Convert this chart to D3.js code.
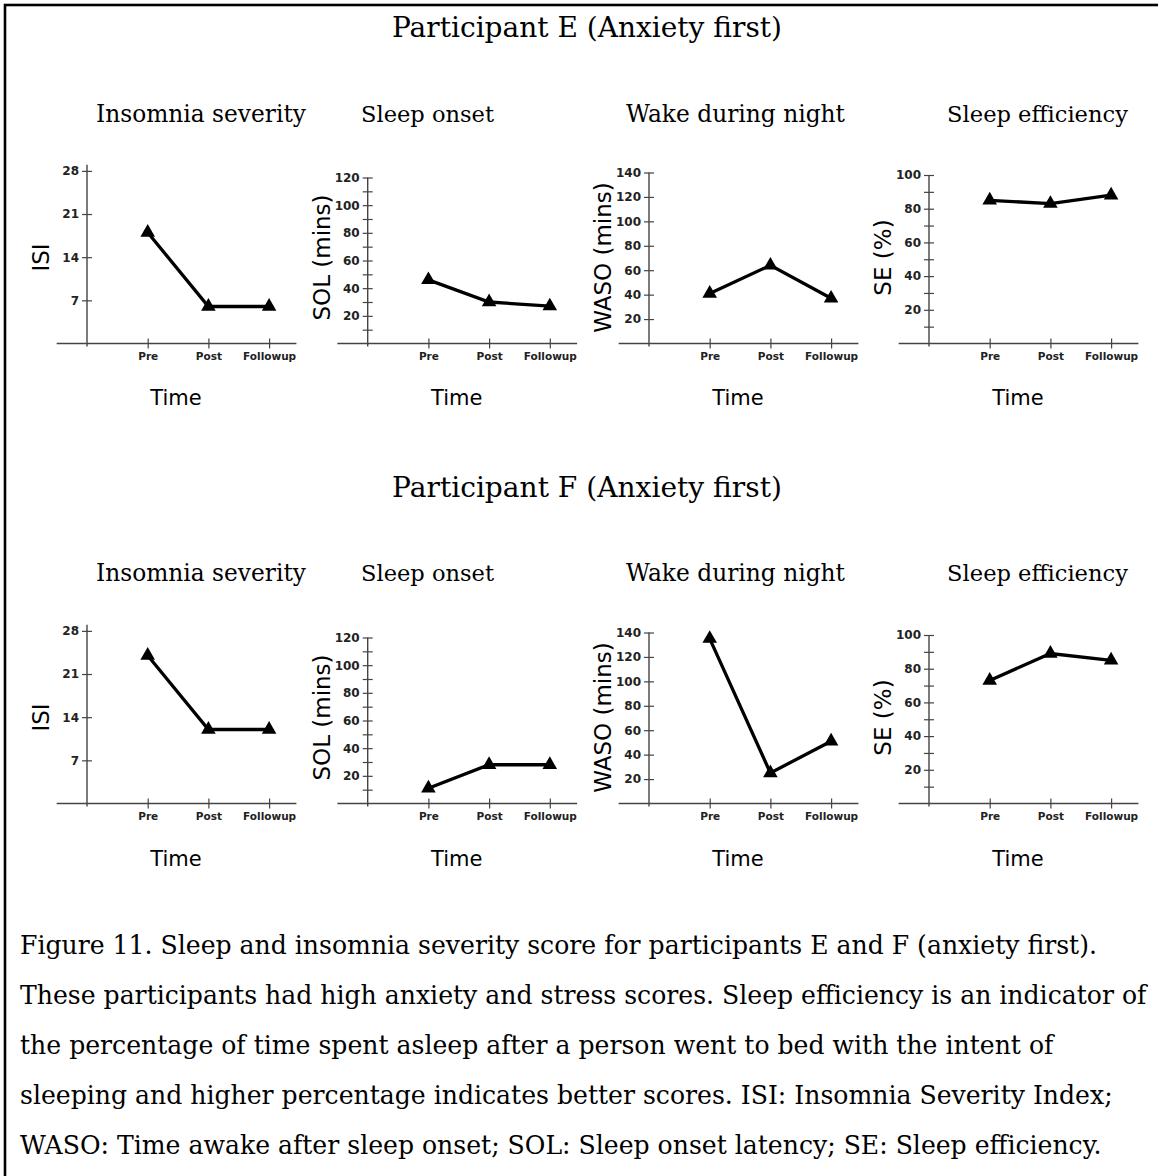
<!DOCTYPE html>
<html>
<head>
<meta charset="utf-8">
<script src="https://cdn.jsdelivr.net/npm/d3@7"></script>
<style>
  html, body { margin: 0; padding: 0; background: #fff; }
  svg { display: block; }
</style>
</head>
<body>
<svg id="chart" width="1158" height="1176"></svg>
<script>
// ---------------- DATA ----------------
const categories = ["Pre", "Post", "Followup"];
const participants = ["Participant E (Anxiety first)", "Participant F (Anxiety first)"];
const panelTitles = ["Insomnia severity", "Sleep onset", "Wake during night", "Sleep efficiency"];
const yLabels = ["ISI", "SOL (mins)", "WASO (mins)", "SE (%)"];
const xLabel = "Time";

const isiE = [18, 6, 6];
const solE = [46, 30, 27];
const wasoE = [41, 64, 37];
const seE = [85, 83, 88];

const isiF = [24, 12, 12];
const solF = [11, 28, 28];
const wasoF = [135, 25, 51];
const seF = [73, 89, 85];

const isiTicks = [7, 14, 21, 28];
const solTicks = [20, 40, 60, 80, 100, 120];
const solMinor = [10, 30, 50, 70, 90, 110];
const wasoTicks = [20, 40, 60, 80, 100, 120, 140];
const seTicks = [20, 40, 60, 80, 100];
const seMinor = [10, 30, 50, 70, 90];

const isiMax = 29, solMax = 120, wasoMax = 140, seMax = 100;

const captionLines = [
  "Figure 11. Sleep and insomnia severity score for participants E and F (anxiety first).",
  "These participants had high anxiety and stress scores. Sleep efficiency is an indicator of",
  "the percentage of time spent asleep after a person went to bed with the intent of",
  "sleeping and higher percentage indicates better scores. ISI: Insomnia Severity Index;",
  "WASO: Time awake after sleep onset; SOL: Sleep onset latency; SE: Sleep efficiency."
];

const rowsData = [[isiE, solE, wasoE, seE], [isiF, solF, wasoF, seF]];
const tickSets = [isiTicks, solTicks, wasoTicks, seTicks];
const minorSets = [[], solMinor, [], seMinor];
const maxes = [isiMax, solMax, wasoMax, seMax];

// ---------------- LAYOUT ----------------
const axisXs = [87, 367.7, 649, 929];
const titleXs = [201, 427.5, 735.5, 1037.5];
const pxPerMax = [178.8, 166, 171, 168.5]; // pixel height of domain max
const rowBase = [343.5, 803.5];
const rowTitleY = [37, 497];
const rowSubY = [122, 581];
const rowTimeY = [405, 866];
const step = 60.7;

const serif = "'DejaVu Serif', 'Liberation Serif', serif";
const sans = "'DejaVu Sans', Verdana, sans-serif";

const svg = d3.select("#chart");

svg.append("rect").attr("x", 5).attr("y", 5).attr("width", 1170).attr("height", 1190)
  .attr("fill", "none").attr("stroke", "#000").attr("stroke-width", 2.6);

function fitText(sel, target) {
  const w = sel.node().getComputedTextLength();
  const fs = parseFloat(sel.attr("font-size"));
  return fs * target / w;
}

// Titles
const titleTargets = [390, 390];
participants.forEach((t, r) => {
  const el = svg.append("text").attr("x", 587).attr("y", rowTitleY[r])
    .attr("text-anchor", "middle").attr("font-family", serif).attr("font-size", 28)
    .attr("fill", "#000").text(t);
  el.attr("font-size", fitText(el, titleTargets[r]));
});

const subWidths = [210, 133, 219, 181];

rowsData.forEach((rowVals, r) => {
  const y0 = rowBase[r];
  rowVals.forEach((vals, c) => {
    const ax = axisXs[c];
    const sub = svg.append("text").attr("x", titleXs[c]).attr("y", rowSubY[r])
      .attr("text-anchor", "middle").attr("font-family", serif).attr("font-size", 24)
      .attr("fill", "#000").text(panelTitles[c]);
    sub.attr("font-size", fitText(sub, subWidths[c]));

    const g = svg.append("g");
    const y = d3.scaleLinear().domain([0, maxes[c]]).range([y0, y0 - pxPerMax[c]]);
    const x = d3.scaleLinear().domain([0, 3]).range([ax, ax + 3 * step]);

    // axis lines
    g.append("line").attr("x1", ax).attr("x2", ax).attr("y1", y0 + 3).attr("y2", y(maxes[c]))
      .attr("stroke", "#444").attr("stroke-width", 1.4);
    g.append("line").attr("x1", x(-0.5)).attr("x2", x(3.45)).attr("y1", y0).attr("y2", y0)
      .attr("stroke", "#444").attr("stroke-width", 1.4);

    // y axis major
    const ya = g.append("g").attr("transform", `translate(${ax},0)`)
      .call(d3.axisLeft(y).tickValues(tickSets[c]).tickSize(5).tickPadding(3).tickFormat(d3.format("d")));
    ya.select(".domain").remove();
    ya.selectAll(".tick line").attr("x1", 5).attr("stroke", "#444").attr("stroke-width", 1.2);
    ya.selectAll(".tick text").attr("font-family", sans).attr("font-weight", "bold")
      .attr("font-size", 12).attr("fill", "#222");
    // y minor
    if (minorSets[c].length) {
      const ym = g.append("g").attr("transform", `translate(${ax},0)`)
        .call(d3.axisLeft(y).tickValues(minorSets[c]).tickSize(5).tickFormat(""));
      ym.select(".domain").remove();
      ym.selectAll(".tick line").attr("x1", 5).attr("stroke", "#444").attr("stroke-width", 1.2);
    }

    // x axis
    const xa = g.append("g").attr("transform", `translate(0,${y0})`)
      .call(d3.axisBottom(x).tickValues([1, 2, 3]).tickSize(5).tickPadding(4)
        .tickFormat(i => categories[i - 1]));
    xa.select(".domain").remove();
    xa.selectAll(".tick line").attr("y1", -5).attr("stroke", "#444").attr("stroke-width", 1.2);
    xa.selectAll(".tick text").attr("font-family", sans).attr("font-weight", "bold")
      .attr("font-size", 10.5).attr("fill", "#222");

    // labels
    g.append("text").attr("x", ax + 89).attr("y", rowTimeY[r]).attr("text-anchor", "middle")
      .attr("font-family", sans).attr("font-size", 21).attr("fill", "#000").text(xLabel);
    const cy = y0 - 86;
    g.append("text").attr("transform", `translate(${ax - 46},${cy}) rotate(-90)`)
      .attr("text-anchor", "middle").attr("dy", "0.36em")
      .attr("font-family", sans).attr("font-size", 23).attr("fill", "#000").text(yLabels[c]);

    // line & markers
    const line = d3.line().x((d, i) => x(i + 1)).y(d => y(d));
    g.append("path").datum(vals).attr("d", line).attr("fill", "none")
      .attr("stroke", "#000").attr("stroke-width", 3.3);
    g.selectAll(".mk").data(vals).join("path")
      .attr("transform", (d, i) => `translate(${x(i + 1)},${y(d)})`)
      .attr("d", d3.symbol(d3.symbolTriangle, 92)).attr("fill", "#000");
  });
});

// Caption
const capBase = 954;
const capEls = captionLines.map((t, i) =>
  svg.append("text").attr("x", 20).attr("y", capBase + i * 50)
    .attr("font-family", serif).attr("font-size", 22).attr("fill", "#000").text(t));
const capFs = fitText(capEls[1], 1127);
capEls.forEach(e => e.attr("font-size", capFs));
</script>
</body>
</html>
